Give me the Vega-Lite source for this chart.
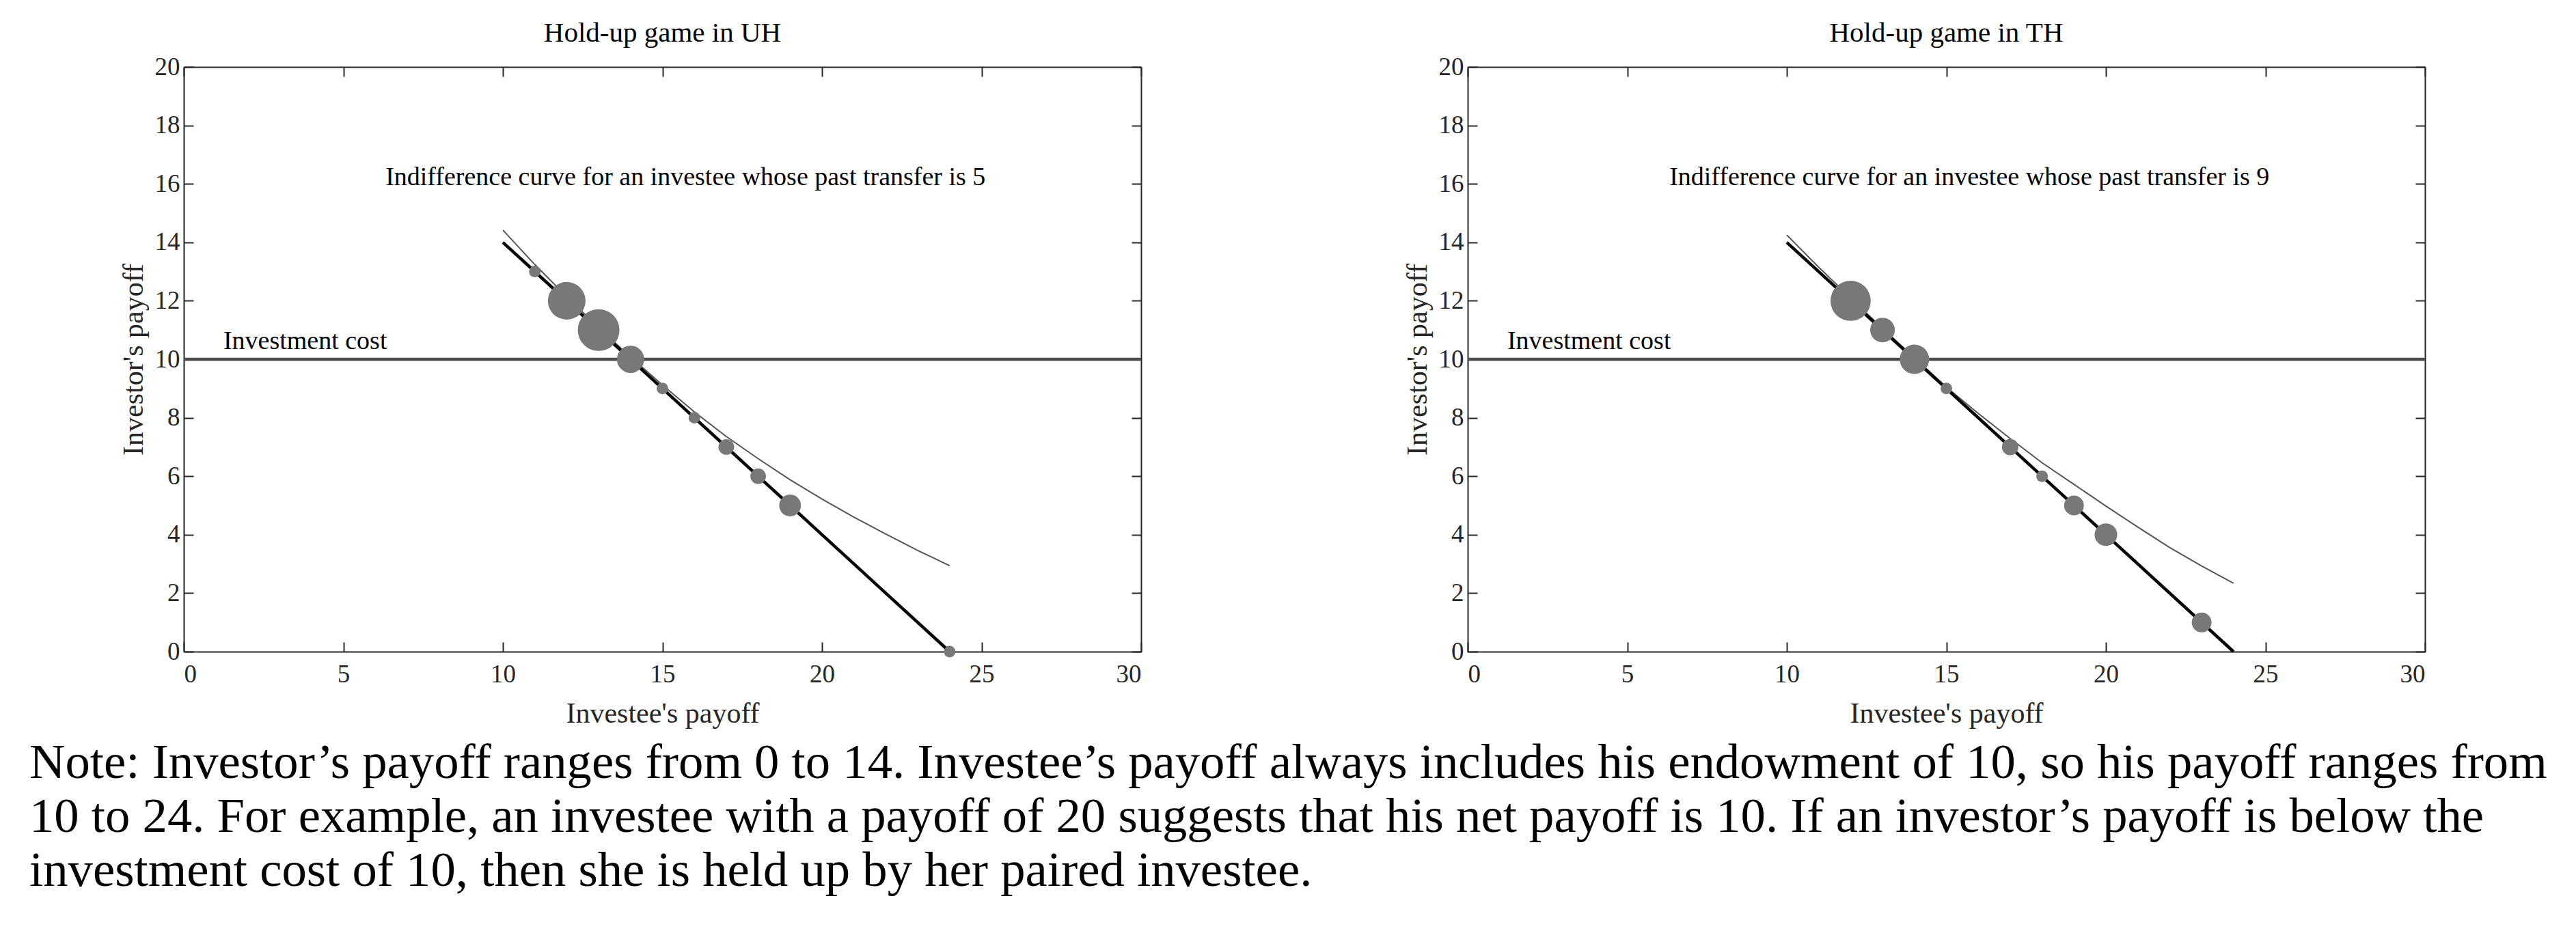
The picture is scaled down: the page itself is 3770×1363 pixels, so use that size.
{
  "$schema": "https://vega.github.io/schema/vega-lite/v6.json",
  "padding": {"left": 43, "top": 28, "right": 0, "bottom": 0},
  "background": "white",
  "bounds": "flush",
  "spacing": 478,
  "datasets": {
    "cost": [{"cost": 10}],
    "budget": [{"x": 10, "y": 14}, {"x": 24, "y": 0}],
    "curveUH": [
      {"x": 10, "y": 14.42}, {"x": 11, "y": 13.24}, {"x": 12, "y": 12.14}, {"x": 13, "y": 11.08},
      {"x": 14, "y": 10.08}, {"x": 15, "y": 9.12}, {"x": 16, "y": 8.2}, {"x": 17, "y": 7.36},
      {"x": 18, "y": 6.6}, {"x": 19, "y": 5.88}, {"x": 20, "y": 5.22}, {"x": 21, "y": 4.6},
      {"x": 22, "y": 4.02}, {"x": 23, "y": 3.46}, {"x": 24, "y": 2.94}
    ],
    "curveTH": [
      {"x": 10, "y": 14.25}, {"x": 11, "y": 13.15}, {"x": 12, "y": 12.1}, {"x": 13, "y": 11.06},
      {"x": 14, "y": 10.05}, {"x": 15, "y": 9.05}, {"x": 16, "y": 8.15}, {"x": 17, "y": 7.29},
      {"x": 18, "y": 6.46}, {"x": 19, "y": 5.72}, {"x": 20, "y": 4.98}, {"x": 21, "y": 4.26},
      {"x": 22, "y": 3.56}, {"x": 23, "y": 2.93}, {"x": 24, "y": 2.34}
    ],
    "dotsUH": [
      {"x": 11, "y": 13, "n": 1}, {"x": 12, "y": 12, "n": 10.5}, {"x": 13, "y": 11, "n": 12.9},
      {"x": 14, "y": 10, "n": 5.5}, {"x": 15, "y": 9, "n": 1}, {"x": 16, "y": 8, "n": 1},
      {"x": 17, "y": 7, "n": 1.8}, {"x": 18, "y": 6, "n": 1.8}, {"x": 19, "y": 5, "n": 3.5},
      {"x": 24, "y": 0, "n": 1}
    ],
    "dotsTH": [
      {"x": 12, "y": 12, "n": 12}, {"x": 13, "y": 11, "n": 4.5}, {"x": 14, "y": 10, "n": 6.4},
      {"x": 15, "y": 9, "n": 1}, {"x": 17, "y": 7, "n": 2}, {"x": 18, "y": 6, "n": 1},
      {"x": 19, "y": 5, "n": 2.9}, {"x": 20, "y": 4, "n": 3.8}, {"x": 23, "y": 1, "n": 2.9}
    ],
    "notesUH": [
      {"x": 1.24, "y": 10.34, "label": "Investment cost"},
      {"x": 6.32, "y": 15.96, "label": "Indifference curve for an investee whose past transfer is 5"}
    ],
    "notesTH": [
      {"x": 1.24, "y": 10.34, "label": "Investment cost"},
      {"x": 6.32, "y": 15.96, "label": "Indifference curve for an investee whose past transfer is 9"}
    ]
  },
  "hconcat": [
    {
      "width": 1401,
      "height": 856,
      "title": {"text": "Hold-up game in UH", "fontSize": 41, "font": "Liberation Serif", "fontWeight": "normal", "color": "#000000", "anchor": "middle", "baseline": "alphabetic", "offset": -23},
      "resolve": {"axis": {"x": "independent", "y": "independent"}},
      "layer": [
        {
          "data": {"name": "cost"},
          "mark": {"type": "rule", "color": "#4d4d4d", "strokeWidth": 4.5},
          "encoding": {
            "y": {"field": "cost", "type": "quantitative", "scale": {"domain": [0, 20], "nice": false, "zero": false},
                  "axis": {"orient": "left", "values": [0, 2, 4, 6, 8, 10, 12, 14, 16, 18, 20], "title": "Investor's payoff", "labelPadding": 20, "titlePadding": 9}}
          }
        },
        {
          "data": {"name": "curveUH"},
          "mark": {"type": "line", "color": "#555555", "strokeWidth": 2},
          "encoding": {
            "x": {"field": "x", "type": "quantitative", "scale": {"domain": [0, 30], "nice": false, "zero": false},
                  "axis": {"orient": "top", "values": [0, 5, 10, 15, 20, 25, 30], "labels": false, "title": null}},
            "y": {"field": "y", "type": "quantitative", "scale": {"domain": [0, 20], "nice": false, "zero": false},
                  "axis": {"orient": "right", "values": [0, 2, 4, 6, 8, 10, 12, 14, 16, 18, 20], "labels": false, "title": null}}
          }
        },
        {
          "data": {"name": "budget"},
          "mark": {"type": "line", "color": "#000000", "strokeWidth": 4.5},
          "encoding": {
            "x": {"field": "x", "type": "quantitative", "scale": {"domain": [0, 30], "nice": false, "zero": false},
                  "axis": {"orient": "bottom", "values": [0, 5, 10, 15, 20, 25, 30], "title": "Investee's payoff", "labelPadding": 29, "titlePadding": 19}},
            "y": {"field": "y", "type": "quantitative", "scale": {"domain": [0, 20], "nice": false, "zero": false}, "axis": null}
          }
        },
        {
          "data": {"name": "dotsUH"},
          "mark": {"type": "circle", "color": "#787878", "opacity": 1},
          "encoding": {
            "x": {"field": "x", "type": "quantitative", "scale": {"domain": [0, 30], "nice": false, "zero": false}, "axis": null},
            "y": {"field": "y", "type": "quantitative", "scale": {"domain": [0, 20], "nice": false, "zero": false}, "axis": null},
            "size": {"field": "n", "type": "quantitative", "scale": {"type": "linear", "domain": [0, 13], "range": [0, 3757], "zero": true}, "legend": null}
          }
        },
        {
          "data": {"name": "notesUH"},
          "mark": {"type": "text", "align": "left", "baseline": "alphabetic", "font": "Liberation Serif", "fontSize": 38, "color": "#000000"},
          "encoding": {
            "x": {"field": "x", "type": "quantitative", "scale": {"domain": [0, 30], "nice": false, "zero": false}, "axis": null},
            "y": {"field": "y", "type": "quantitative", "scale": {"domain": [0, 20], "nice": false, "zero": false}, "axis": null},
            "text": {"field": "label", "type": "nominal"}
          }
        }
      ]
    },
    {
      "width": 1401,
      "height": 856,
      "title": {"text": "Hold-up game in TH", "fontSize": 41, "font": "Liberation Serif", "fontWeight": "normal", "color": "#000000", "anchor": "middle", "baseline": "alphabetic", "offset": -23},
      "resolve": {"axis": {"x": "independent", "y": "independent"}},
      "layer": [
        {
          "data": {"name": "cost"},
          "mark": {"type": "rule", "color": "#4d4d4d", "strokeWidth": 4.5},
          "encoding": {
            "y": {"field": "cost", "type": "quantitative", "scale": {"domain": [0, 20], "nice": false, "zero": false},
                  "axis": {"orient": "left", "values": [0, 2, 4, 6, 8, 10, 12, 14, 16, 18, 20], "title": "Investor's payoff", "labelPadding": 20, "titlePadding": 9}}
          }
        },
        {
          "data": {"name": "curveTH"},
          "mark": {"type": "line", "color": "#555555", "strokeWidth": 2},
          "encoding": {
            "x": {"field": "x", "type": "quantitative", "scale": {"domain": [0, 30], "nice": false, "zero": false},
                  "axis": {"orient": "top", "values": [0, 5, 10, 15, 20, 25, 30], "labels": false, "title": null}},
            "y": {"field": "y", "type": "quantitative", "scale": {"domain": [0, 20], "nice": false, "zero": false},
                  "axis": {"orient": "right", "values": [0, 2, 4, 6, 8, 10, 12, 14, 16, 18, 20], "labels": false, "title": null}}
          }
        },
        {
          "data": {"name": "budget"},
          "mark": {"type": "line", "color": "#000000", "strokeWidth": 4.5},
          "encoding": {
            "x": {"field": "x", "type": "quantitative", "scale": {"domain": [0, 30], "nice": false, "zero": false},
                  "axis": {"orient": "bottom", "values": [0, 5, 10, 15, 20, 25, 30], "title": "Investee's payoff", "labelPadding": 29, "titlePadding": 19}},
            "y": {"field": "y", "type": "quantitative", "scale": {"domain": [0, 20], "nice": false, "zero": false}, "axis": null}
          }
        },
        {
          "data": {"name": "dotsTH"},
          "mark": {"type": "circle", "color": "#787878", "opacity": 1},
          "encoding": {
            "x": {"field": "x", "type": "quantitative", "scale": {"domain": [0, 30], "nice": false, "zero": false}, "axis": null},
            "y": {"field": "y", "type": "quantitative", "scale": {"domain": [0, 20], "nice": false, "zero": false}, "axis": null},
            "size": {"field": "n", "type": "quantitative", "scale": {"type": "linear", "domain": [0, 13], "range": [0, 3757], "zero": true}, "legend": null}
          }
        },
        {
          "data": {"name": "notesTH"},
          "mark": {"type": "text", "align": "left", "baseline": "alphabetic", "font": "Liberation Serif", "fontSize": 38, "color": "#000000"},
          "encoding": {
            "x": {"field": "x", "type": "quantitative", "scale": {"domain": [0, 30], "nice": false, "zero": false}, "axis": null},
            "y": {"field": "y", "type": "quantitative", "scale": {"domain": [0, 20], "nice": false, "zero": false}, "axis": null},
            "text": {"field": "label", "type": "nominal"}
          }
        }
      ]
    }
  ],
  "title": {
    "text": [
      "Note: Investor’s payoff ranges from 0 to 14. Investee’s payoff always includes his endowment of 10, so his payoff ranges from",
      "10 to 24. For example, an investee with a payoff of 20 suggests that his net payoff is 10. If an investor’s payoff is below the",
      "investment cost of 10, then she is held up by her paired investee."
    ],
    "orient": "bottom",
    "anchor": "start",
    "frame": "bounds",
    "font": "Liberation Serif",
    "fontSize": 72.7,
    "lineHeight": 79,
    "fontWeight": "normal",
    "color": "#000000",
    "baseline": "top",
    "offset": 17,
    "dx": -131
  },
  "config": {
    "view": {"stroke": null},
    "font": "Liberation Serif",
    "axis": {
      "grid": false,
      "domainColor": "#262626",
      "domainWidth": 2,
      "tickColor": "#262626",
      "tickWidth": 2,
      "tickSize": -14,
      "labelFont": "Liberation Serif",
      "labelFontSize": 37,
      "labelColor": "#262626",
      "titleFont": "Liberation Serif",
      "titleFontSize": 42,
      "titleFontWeight": "normal",
      "titleColor": "#262626"
    }
  }
}
